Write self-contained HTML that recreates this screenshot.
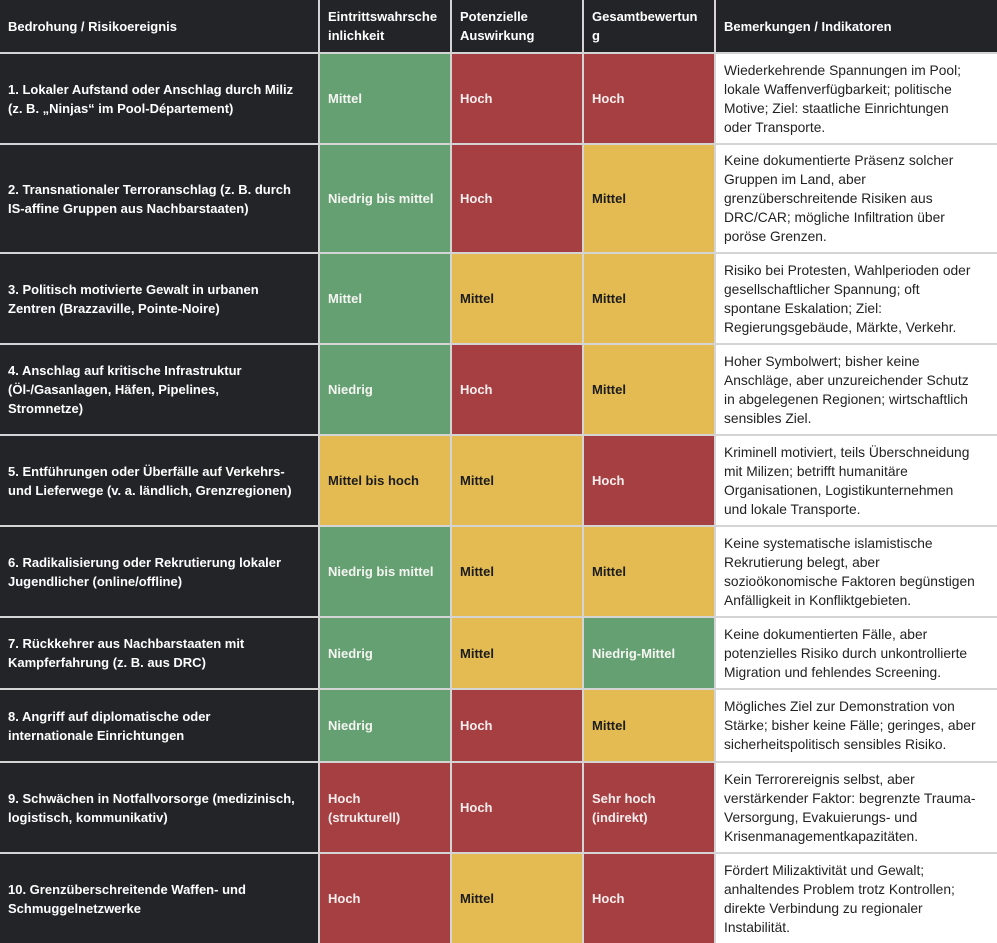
<!DOCTYPE html>
<html><head><meta charset="utf-8"><style>
body{margin:0;width:997px;height:943px;background:#d4d4d4;position:relative;overflow:hidden;font-family:"Liberation Sans",sans-serif}
.c{position:absolute;display:flex;align-items:center;box-sizing:border-box;padding:0 8px;font-size:13px;line-height:19px}
.h{background:#232428;color:#fff;font-weight:bold}
.d{background:#232428;color:#fff;font-weight:bold}
.g{background:#65a073;color:#f4f4f0;font-weight:bold}
.r{background:#a63f41;color:#f6eeee;font-weight:bold}
.y{background:#e4bb52;color:#1c1c1c;font-weight:bold}
.w{background:#fff;color:#222;font-size:13.8px;white-space:nowrap}
</style></head><body>
<div id="t"></div>
<script>
var cols=[[0,318],[320,450],[452,582],[584,714],[716,997]];
var rows=[[0,52],[54,143],[145,252],[254,343],[345,434],[436,525],[527,616],[618,688],[690,761],[763,852],[854,943]];
var data=[
["h","Bedrohung / Risikoereignis","h","Eintrittswahrsche<br>inlichkeit","h","Potenzielle<br>Auswirkung","h","Gesamtbewertun<br>g","h","Bemerkungen / Indikatoren"],
["d","1. Lokaler Aufstand oder Anschlag durch Miliz<br>(z. B. „Ninjas“ im Pool-Département)","g","Mittel","r","Hoch","r","Hoch","w","Wiederkehrende Spannungen im Pool;<br>lokale Waffenverfügbarkeit; politische<br>Motive; Ziel: staatliche Einrichtungen<br>oder Transporte."],
["d","2. Transnationaler Terroranschlag (z. B. durch<br>IS-affine Gruppen aus Nachbarstaaten)","g","Niedrig bis mittel","r","Hoch","y","Mittel","w","Keine dokumentierte Präsenz solcher<br>Gruppen im Land, aber<br>grenzüberschreitende Risiken aus<br>DRC/CAR; mögliche Infiltration über<br>poröse Grenzen."],
["d","3. Politisch motivierte Gewalt in urbanen<br>Zentren (Brazzaville, Pointe-Noire)","g","Mittel","y","Mittel","y","Mittel","w","Risiko bei Protesten, Wahlperioden oder<br>gesellschaftlicher Spannung; oft<br>spontane Eskalation; Ziel:<br>Regierungsgebäude, Märkte, Verkehr."],
["d","4. Anschlag auf kritische Infrastruktur<br>(Öl-/Gasanlagen, Häfen, Pipelines,<br>Stromnetze)","g","Niedrig","r","Hoch","y","Mittel","w","Hoher Symbolwert; bisher keine<br>Anschläge, aber unzureichender Schutz<br>in abgelegenen Regionen; wirtschaftlich<br>sensibles Ziel."],
["d","5. Entführungen oder Überfälle auf Verkehrs-<br>und Lieferwege (v. a. ländlich, Grenzregionen)","y","Mittel bis hoch","y","Mittel","r","Hoch","w","Kriminell motiviert, teils Überschneidung<br>mit Milizen; betrifft humanitäre<br>Organisationen, Logistikunternehmen<br>und lokale Transporte."],
["d","6. Radikalisierung oder Rekrutierung lokaler<br>Jugendlicher (online/offline)","g","Niedrig bis mittel","y","Mittel","y","Mittel","w","Keine systematische islamistische<br>Rekrutierung belegt, aber<br>sozioökonomische Faktoren begünstigen<br>Anfälligkeit in Konfliktgebieten."],
["d","7. Rückkehrer aus Nachbarstaaten mit<br>Kampferfahrung (z. B. aus DRC)","g","Niedrig","y","Mittel","g","Niedrig-Mittel","w","Keine dokumentierten Fälle, aber<br>potenzielles Risiko durch unkontrollierte<br>Migration und fehlendes Screening."],
["d","8. Angriff auf diplomatische oder<br>internationale Einrichtungen","g","Niedrig","r","Hoch","y","Mittel","w","Mögliches Ziel zur Demonstration von<br>Stärke; bisher keine Fälle; geringes, aber<br>sicherheitspolitisch sensibles Risiko."],
["d","9. Schwächen in Notfallvorsorge (medizinisch,<br>logistisch, kommunikativ)","r","Hoch<br>(strukturell)","r","Hoch","r","Sehr hoch<br>(indirekt)","w","Kein Terrorereignis selbst, aber<br>verstärkender Faktor: begrenzte Trauma-<br>Versorgung, Evakuierungs- und<br>Krisenmanagementkapazitäten."],
["d","10. Grenzüberschreitende Waffen- und<br>Schmuggelnetzwerke","r","Hoch","y","Mittel","r","Hoch","w","Fördert Milizaktivität und Gewalt;<br>anhaltendes Problem trotz Kontrollen;<br>direkte Verbindung zu regionaler<br>Instabilität."]
];
var h="";
for(var i=0;i<rows.length;i++)for(var j=0;j<5;j++){
var x=cols[j],y=rows[i];
h+='<div class="c '+data[i][2*j]+'" style="left:'+x[0]+'px;top:'+y[0]+'px;width:'+(x[1]-x[0])+'px;height:'+(y[1]-y[0])+'px"><div>'+data[i][2*j+1]+'</div></div>';}
document.getElementById("t").innerHTML=h;
</script>
</body></html>
